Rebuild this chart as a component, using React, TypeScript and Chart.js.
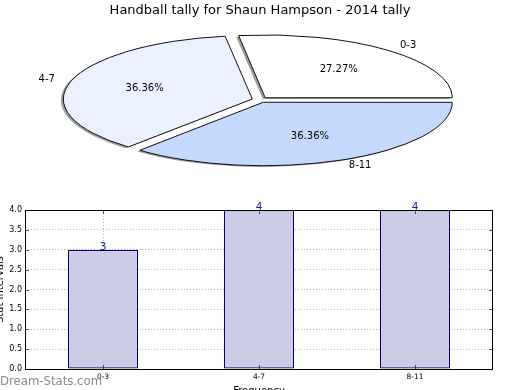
import React, { useEffect, useRef } from 'react';
import { Chart, registerables } from 'chart.js';

Chart.register(...registerables);

const FONT = "'DejaVu Sans', 'Noto Sans', sans-serif";

// ---- data ----
const pieTitle = 'Handball tally for Shaun Hampson - 2014 tally';
const categories = ['0-3', '4-7', '8-11'];
const tallyValues = [3, 4, 4];
const pieColors = ['#ffffff', '#ebf1fe', '#c5d8fd'];
const yTicks = [0, 0.5, 1, 1.5, 2, 2.5, 3, 3.5, 4];
const yAxisTitle = 'Stat Intervals';
const xAxisTitle = 'Frequency';
const watermark = 'Dream-Stats.com';

// ---- styling ----
const PIE_TILT = 0.336;
const PIE_RADIUS = 187;
const PIE_OFFSET = 32; // chart.js draws offset / 4
const BAR_FILL = 'rgb(204,204,230)';
const BAR_EDGE = '#00006e';
const GRID = '#b4b4b4';

// counter-clockwise order (as the reference draws it)
const pieOrder = [2, 1, 0];

const ellipsePlugin = {
  id: 'ellipsePie',
  beforeDatasetsDraw(chart: any) {
    const ctx = chart.ctx;
    const a = chart.chartArea;
    const cx = (a.left + a.right) / 2;
    const cy = (a.top + a.bottom) / 2;
    const dpr = chart.currentDevicePixelRatio || 1;
    ctx.save();
    ctx.translate(cx, cy);
    ctx.scale(1, PIE_TILT);
    ctx.translate(-cx, -cy);
    ctx.shadowColor = 'rgba(60,60,60,0.5)';
    ctx.shadowOffsetX = -2.5;
    ctx.shadowOffsetY = 1.2;
    ctx.shadowBlur = 0;
    const orig = CanvasRenderingContext2D.prototype.stroke;
    (ctx as any).stroke = function (...args: any[]) {
      ctx.save();
      ctx.setTransform(dpr, 0, 0, dpr, 0, 0);
      ctx.shadowColor = 'rgba(0,0,0,0)';
      (orig as any).apply(ctx, args);
      ctx.restore();
    };
  },
  afterDatasetsDraw(chart: any) {
    const ctx = chart.ctx;
    delete (ctx as any).stroke;
    ctx.restore();
    const a = chart.chartArea;
    const cy = (a.top + a.bottom) / 2;
    const meta = chart.getDatasetMeta(0);
    const ds = chart.data.datasets[0];
    const total = (ds.data as number[]).reduce((s: number, v: number) => s + v, 0);
    const eff = PIE_OFFSET / 4;
    ctx.save();
    ctx.fillStyle = '#000';
    ctx.font = `10px ${FONT}`;
    meta.data.forEach((arc: any, i: number) => {
      const mid = (arc.startAngle + arc.endAngle) / 2;
      const c = Math.cos(mid);
      const s = Math.sin(mid);
      const R = PIE_RADIUS;
      const place = (f: number) => ({
        x: arc.x + c * (eff + R * f),
        y: cy + (arc.y - cy + s * (eff + R * f)) * PIE_TILT,
      });
      const lab = place(1.1);
      ctx.textBaseline = 'middle';
      ctx.textAlign = c >= 0 ? 'left' : 'right';
      ctx.fillText(String(chart.data.labels[i]), lab.x, lab.y);
      const pct = place(0.6);
      ctx.textAlign = 'center';
      const v = (ds.data[i] as number) / total * 100;
      ctx.fillText(v.toFixed(2) + '%', pct.x, pct.y);
    });
    ctx.restore();
  },
};

const barDecorPlugin = {
  id: 'barDecor',
  afterDatasetsDraw(chart: any) {
    const ctx = chart.ctx;
    const meta = chart.getDatasetMeta(0);
    ctx.save();
    ctx.fillStyle = '#202090';
    ctx.font = `10.5px ${FONT}`;
    ctx.textAlign = 'center';
    ctx.textBaseline = 'alphabetic';
    meta.data.forEach((bar: any, i: number) => {
      ctx.fillText(String(chart.data.datasets[0].data[i]), bar.x, bar.y);
    });
    ctx.restore();
  },
  afterDraw(chart: any) {
    const ctx = chart.ctx;
    const a = chart.chartArea;
    const L = Math.round(a.left), R = Math.round(a.right), T = Math.round(a.top), B = Math.round(a.bottom);
    ctx.save();
    // inward tick marks
    ctx.strokeStyle = 'rgba(0,0,0,0.65)';
    ctx.lineWidth = 1;
    const ys = chart.scales.y;
    const xs = chart.scales.x;
    ctx.beginPath();
    yTicks.forEach((v) => {
      const y = Math.round(ys.getPixelForValue(v)) + 0.5;
      ctx.moveTo(L, y); ctx.lineTo(L + 4, y);
      ctx.moveTo(R - 4, y); ctx.lineTo(R, y);
    });
    categories.forEach((_c, i) => {
      const x = Math.round(xs.getPixelForValue(i)) + 0.5;
      ctx.moveTo(x, B); ctx.lineTo(x, B - 4);
      ctx.moveTo(x, T); ctx.lineTo(x, T + 4);
    });
    ctx.stroke();
    // frame
    ctx.strokeStyle = '#000';
    ctx.lineWidth = 1;
    ctx.strokeRect(L + 0.5, T + 0.5, R - L - 1, B - T);
    // watermark
    ctx.fillStyle = '#8a8a8a';
    ctx.font = `13px 'DejaVu Sans Condensed', ${FONT}`;
    ctx.textAlign = 'left';
    ctx.textBaseline = 'alphabetic';
    ctx.fillText(watermark, 6, 190);
    ctx.restore();
  },
};

function PieChart() {
  const ref = useRef<HTMLCanvasElement>(null);
  useEffect(() => {
    if (!ref.current) return;
    const chart = new Chart(ref.current, {
      type: 'pie',
      data: {
        labels: pieOrder.map((i) => categories[i]),
        datasets: [
          {
            data: pieOrder.map((i) => tallyValues[i]),
            backgroundColor: pieOrder.map((i) => pieColors[i]),
            borderColor: '#111111',
            borderWidth: 1,
            offset: PIE_OFFSET,
            hoverOffset: 0,
            radius: PIE_RADIUS,
            clip: false,
          } as any,
        ],
      },
      options: {
        responsive: false,
        animation: false,
        events: [],
        rotation: 90,
        layout: { padding: { top: 0, left: 0, right: 0, bottom: 14 } },
        plugins: {
          legend: { display: false },
          tooltip: { enabled: false },
          title: {
            display: true,
            text: pieTitle,
            color: '#000',
            font: { family: FONT, size: 13, weight: 'normal' },
            padding: { top: 3, bottom: 0 },
          },
        },
      } as any,
      plugins: [ellipsePlugin],
    });
    return () => chart.destroy();
  }, []);
  return <canvas ref={ref} width={520} height={195} style={{ width: 520, height: 195, display: 'block' }} />;
}

function BarChart() {
  const ref = useRef<HTMLCanvasElement>(null);
  useEffect(() => {
    if (!ref.current) return;
    const chart = new Chart(ref.current, {
      type: 'bar',
      data: {
        labels: categories,
        datasets: [
          {
            data: tallyValues,
            backgroundColor: BAR_FILL,
            borderColor: BAR_EDGE,
            borderWidth: 1.2,
            borderSkipped: false,
            barPercentage: 0.45,
            categoryPercentage: 1,
          },
        ],
      },
      options: {
        responsive: false,
        animation: false,
        events: [],
        layout: { padding: { top: 15, right: 27, bottom: 0, left: 0 } },
        plugins: { legend: { display: false }, tooltip: { enabled: false } },
        scales: {
          x: {
            type: 'category',
            offset: true,
            z: 1,
            grid: { offset: false, color: GRID, lineWidth: 1, drawTicks: false },
            border: { display: false, dash: [1, 2] },
            ticks: { font: { family: FONT, size: 7.5 }, color: '#000', padding: 4, maxRotation: 0, autoSkip: false },
            title: { display: true, text: xAxisTitle, color: '#000', font: { family: FONT, size: 10 }, padding: 0 },
            afterFit: (s: any) => { s.height = 28; },
          },
          y: {
            min: 0,
            max: 4,
            z: 1,
            afterBuildTicks: (s: any) => { s.ticks = yTicks.map((v) => ({ value: v })); },
            ticks: { callback: (v: any) => Number(v).toFixed(1), font: { family: FONT, size: 8 }, color: '#000', padding: 3 },
            grid: { color: GRID, lineWidth: 1, drawTicks: false },
            border: { display: false, dash: [1, 2] },
            title: { display: true, text: yAxisTitle, color: '#000', font: { family: FONT, size: 10 }, padding: 0 },
            afterFit: (s: any) => { s.width = 31; },
          },
        },
      } as any,
      plugins: [barDecorPlugin],
    });
    return () => chart.destroy();
  }, []);
  return <canvas ref={ref} width={526} height={202} style={{ width: 526, height: 202, display: 'block', position: 'absolute', left: -6, top: 0 }} />;
}

export default function App() {
  return (
    <div style={{ position: 'absolute', left: 0, top: 0, width: 520, height: 390, overflow: 'hidden', background: '#fff' }}>
      <div style={{ position: 'absolute', left: 0, top: 0, width: 520, height: 195 }}>
        <PieChart />
      </div>
      <div style={{ position: 'absolute', left: 0, top: 195, width: 520, height: 195, overflow: 'hidden' }}>
        <BarChart />
      </div>
    </div>
  );
}
